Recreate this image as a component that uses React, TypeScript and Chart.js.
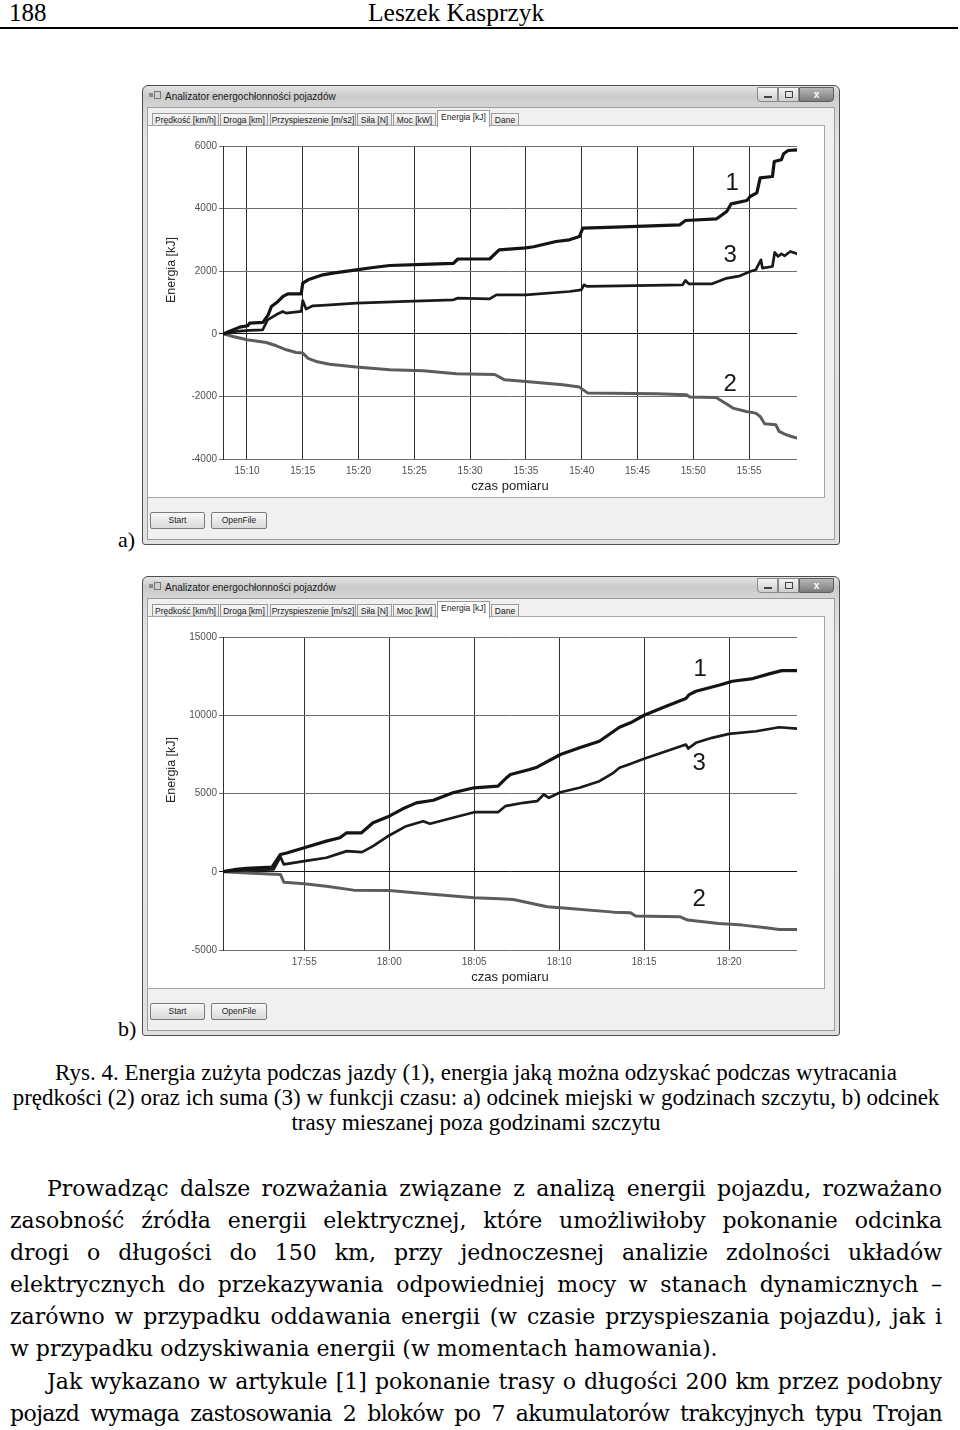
import React, { useEffect, useRef } from 'react';
import { Chart, registerables } from 'chart.js';
Chart.register(...registerables);

// ---------- chart a) : 15:07 - 15:59 (minutes after 15:00) ----------
const xTickValuesA = [10, 15, 20, 25, 30, 35, 40, 45, 50, 55];
const xTickLabelsA = ['15:10', '15:15', '15:20', '15:25', '15:30', '15:35', '15:40', '15:45', '15:50', '15:55'];
const yTickValuesA = [-4000, -2000, 0, 2000, 4000, 6000];
const yTickLabelsA = ['-4000', '-2000', '0', '2000', '4000', '6000'];

// (1) energia zużyta
const timeA1 = [7.88, 9.35, 10.06, 10.24, 11.43, 11.9, 12.19, 12.78, 13.23, 13.67, 14.86, 15.0, 15.47, 16.8, 17.7, 19.8, 21.3, 22.8, 25.8, 28.5, 28.9, 31.75, 32.6, 35.0, 35.7, 37.7, 38.9, 39.8, 40.1, 43.0, 48.8, 49.3, 52.1, 53.0, 53.4, 54.8, 55.1, 55.7, 56.0, 57.1, 57.26, 57.9, 58.1, 58.5, 59.3];
const energyA1 = [0, 213, 256, 342, 364, 607, 872, 1033, 1193, 1278, 1278, 1620, 1725, 1885, 1938, 2045, 2118, 2182, 2220, 2250, 2390, 2390, 2684, 2747, 2780, 2949, 3003, 3109, 3376, 3408, 3482, 3620, 3674, 3907, 4153, 4259, 4387, 4505, 4984, 5026, 5505, 5559, 5751, 5856, 5878];
// (2) energia odzyskiwana
const timeA2 = [7.88, 8.75, 10.0, 11.74, 12.63, 13.53, 14.4, 15.0, 15.47, 16.2, 17.4, 19.8, 22.8, 25.8, 28.76, 32.2, 33.1, 35.0, 38.3, 39.8, 40.55, 46.7, 49.4, 49.7, 52.05, 53.1, 53.55, 54.75, 55.6, 56.0, 56.4, 57.4, 57.7, 58.2, 58.8, 59.3];
const energyA2 = [0, -86, -192, -277, -383, -511, -597, -617, -783, -884, -975, -1064, -1150, -1182, -1278, -1300, -1470, -1524, -1629, -1703, -1895, -1917, -1949, -2022, -2033, -2268, -2374, -2481, -2534, -2641, -2875, -2907, -3120, -3204, -3281, -3332];
// (3) suma
const timeA3 = [7.88, 9.05, 10.24, 11.4, 11.85, 12.6, 13.2, 13.5, 14.86, 15.0, 15.3, 15.9, 17.1, 19.8, 24.3, 28.5, 28.9, 31.75, 32.35, 35.0, 38.9, 39.97, 40.2, 40.5, 49.05, 49.3, 49.6, 51.7, 52.97, 54.2, 55.1, 55.6, 56.07, 56.2, 57.1, 57.3, 57.6, 57.9, 58.2, 58.7, 59.3];
const energyA3 = [0, 75, 107, 128, 447, 607, 714, 660, 714, 1064, 788, 895, 916, 980, 1033, 1086, 1140, 1118, 1246, 1246, 1352, 1406, 1565, 1512, 1565, 1703, 1597, 1597, 1773, 1853, 1990, 2045, 2364, 2098, 2151, 2598, 2470, 2556, 2492, 2630, 2556];
const noteTextA = ['1', '3', '2'];
const noteTimeA = [53.5, 53.3, 53.3];
const noteValueA = [4810, 2490, -1610];

// ---------- chart b) : 17:50 - 18:24 (minutes after 17:00) ----------
const xTickValuesB = [55, 60, 65, 70, 75, 80];
const xTickLabelsB = ['17:55', '18:00', '18:05', '18:10', '18:15', '18:20'];
const yTickValuesB = [-5000, 0, 5000, 10000, 15000];
const yTickLabelsB = ['-5000', '0', '5000', '10000', '15000'];

const timeB1 = [50.2, 51.0, 51.6, 53.1, 53.6, 53.97, 55.0, 56.3, 57.1, 57.5, 58.37, 59.05, 60.0, 60.8, 61.6, 62.6, 63.75, 65.0, 66.4, 66.9, 67.14, 68.26, 68.7, 70.08, 71.2, 72.37, 73.55, 74.2, 75.0, 76.3, 77.46, 77.66, 78.05, 79.4, 80.2, 81.4, 82.36, 83.1, 84.0];
const energyB1 = [0, 150, 220, 300, 1105, 1200, 1533, 1955, 2170, 2490, 2490, 3130, 3550, 4020, 4400, 4570, 5045, 5364, 5470, 6000, 6213, 6530, 6680, 7490, 7918, 8340, 9234, 9514, 10000, 10575, 11066, 11322, 11533, 11916, 12171, 12343, 12644, 12854, 12854];
const timeB2 = [50.2, 52.0, 53.6, 53.8, 55.0, 56.3, 57.9, 60.0, 62.0, 65.0, 66.5, 67.3, 69.3, 70.08, 73.2, 74.2, 74.5, 77.1, 77.56, 79.4, 80.8, 82.17, 82.95, 84.0];
const energyB2 = [0, -100, -172, -664, -766, -920, -1175, -1200, -1386, -1660, -1720, -1770, -2235, -2299, -2580, -2618, -2835, -2874, -3090, -3301, -3410, -3576, -3685, -3685];
const timeB3 = [50.2, 51.6, 53.2, 53.6, 53.8, 55.0, 56.3, 57.5, 58.4, 59.05, 60.0, 61.0, 62.0, 62.4, 63.75, 65.0, 66.4, 66.83, 67.9, 68.7, 69.1, 69.4, 70.08, 71.2, 72.37, 73.2, 73.55, 74.1, 75.0, 76.3, 77.46, 77.6, 78.05, 79.0, 80.0, 81.6, 82.95, 84.0];
const energyB3 = [0, 100, 150, 958, 466, 677, 894, 1316, 1252, 1635, 2318, 2912, 3231, 3068, 3448, 3806, 3806, 4189, 4406, 4509, 4936, 4725, 5083, 5364, 5786, 6322, 6640, 6852, 7216, 7702, 8130, 7874, 8238, 8557, 8812, 8978, 9234, 9151];
const noteTextB = ['1', '3', '2'];
const noteTimeB = [78.3, 78.25, 78.25];
const noteValueB = [12920, 6920, -1760];

// ---------- texts ----------
const tabLabels = ['Prędkość [km/h]', 'Droga [km]', 'Przyspieszenie [m/s2]', 'Siła [N]', 'Moc [kW]', 'Energia [kJ]', 'Dane'];
const tabLefts = [152, 220, 270, 357, 393, 437, 491];
const tabWidths = [67, 48, 86, 35, 43, 53, 28];
const captionLines = [
  'Rys. 4. Energia zużyta podczas jazdy (1), energia jaką można odzyskać podczas wytracania',
  'prędkości (2) oraz ich suma (3) w funkcji czasu: a) odcinek miejski w godzinach szczytu, b) odcinek',
  'trasy mieszanej poza godzinami szczytu',
];
const bodyLines = [
  'Prowadząc dalsze rozważania związane z analizą energii pojazdu, rozważano',
  'zasobność źródła energii elektrycznej, które umożliwiłoby pokonanie odcinka',
  'drogi o długości do 150 km, przy jednoczesnej analizie zdolności układów',
  'elektrycznych do przekazywania odpowiedniej mocy w stanach dynamicznych –',
  'zarówno w przypadku oddawania energii (w czasie przyspieszania pojazdu), jak i',
  'w przypadku odzyskiwania energii (w momentach hamowania).',
  'Jak wykazano w artykule [1] pokonanie trasy o długości 200 km przez podobny',
  'pojazd wymaga zastosowania 2 bloków po 7 akumulatorów trakcyjnych typu Trojan',
];
const bodySpacing = [0, 0, 0, 0, 0, 0, 0, -0.6];

const SANS = '"Liberation Sans", Arial, Helvetica, sans-serif';
const SERIF = '"Liberation Serif", "Times New Roman", serif';
const BODY_SERIF = '"DejaVu Serif", "Liberation Serif", serif';

type Series = { t: number[]; v: number[]; color: string; width: number };
type Params = {
  series: Series[];
  xMin: number; xMax: number; xTicks: number[]; xLabels: string[];
  yMin: number; yMax: number; yTicks: number[]; yLabels: string[];
  notes: string[]; noteT: number[]; noteV: number[];
};

function buildConfig(p: Params): any {
  const notesPlugin = {
    id: 'curveNumbers',
    afterDatasetsDraw(chart: any) {
      const { ctx, scales } = chart;
      ctx.save();
      ctx.font = '24px ' + SANS;
      ctx.fillStyle = '#161616';
      ctx.textAlign = 'center';
      ctx.textBaseline = 'middle';
      p.notes.forEach((n, i) => {
        ctx.fillText(n, scales.x.getPixelForValue(p.noteT[i]), scales.y.getPixelForValue(p.noteV[i]));
      });
      ctx.restore();
    },
  };
  return {
    type: 'line',
    data: {
      datasets: p.series.map((s) => ({
        data: s.t.map((t, i) => ({ x: t, y: s.v[i] })),
        borderColor: s.color,
        borderWidth: s.width,
        pointRadius: 0,
        tension: 0,
        fill: false,
        borderJoinStyle: 'round',
        borderCapStyle: 'round',
      })),
    },
    options: {
      animation: false,
      responsive: false,
      devicePixelRatio: 1,
      events: [],
      layout: { padding: { top: 20, right: 26, left: 0, bottom: 0 } },
      plugins: { legend: { display: false }, tooltip: { enabled: false } },
      scales: {
        x: {
          type: 'linear',
          min: p.xMin,
          max: p.xMax,
          afterBuildTicks: (s: any) => { s.ticks = p.xTicks.map((v) => ({ value: v })); },
          afterFit: (s: any) => { s.height = 38; },
          grid: { color: '#303030', lineWidth: 1, drawTicks: false },
          border: { display: false },
          ticks: {
            autoSkip: false,
            maxRotation: 0,
            padding: 6,
            color: '#505050',
            font: { family: SANS, size: 10 },
            callback: (_v: any, i: number) => p.xLabels[i],
          },
          title: {
            display: true,
            text: 'czas pomiaru',
            color: '#1e1e1e',
            font: { family: SANS, size: 13 },
            padding: { top: 0, bottom: 3 },
          },
        },
        y: {
          type: 'linear',
          min: p.yMin,
          max: p.yMax,
          afterBuildTicks: (s: any) => { s.ticks = p.yTicks.map((v) => ({ value: v })); },
          afterFit: (s: any) => { s.width = 75; },
          grid: {
            color: (c: any) => (c.tick && c.tick.value === 0 ? '#141414' : '#6e6e6e'),
            lineWidth: 1,
            drawTicks: true,
            tickLength: 4,
          },
          border: { display: true, color: '#303030', width: 1 },
          ticks: {
            padding: 2,
            color: '#505050',
            font: { family: SANS, size: 10 },
            callback: (_v: any, i: number) => p.yLabels[i],
          },
        },
      },
    },
    plugins: [notesPlugin],
  };
}

function EnergyChart({ left, top, params }: { left: number; top: number; params: Params }) {
  const ref = useRef<HTMLCanvasElement>(null);
  useEffect(() => {
    const chart = new Chart(ref.current as HTMLCanvasElement, buildConfig(params));
    return () => chart.destroy();
  }, []);
  return (
    <canvas
      ref={ref}
      width={675}
      height={371}
      style={{ position: 'absolute', left, top, width: 675, height: 371, display: 'block' }}
    />
  );
}

const abs = (s: React.CSSProperties): React.CSSProperties => ({ position: 'absolute', ...s });

function AppWindow({ top, params }: { top: number; params: Params }) {
  return (
    <>
      {/* frame */}
      <div style={abs({ left: 142, top, width: 698, height: 460, boxSizing: 'border-box', border: '1px solid #4e4e4e', borderRadius: '6px 6px 3px 3px', background: 'linear-gradient(180deg, #e4e4e4 0px, #cacaca 10px, #d6d6d6 22px, #e4e4e4 60px, #e0e0e0 100%)' })} />
      {/* icon */}
      <div style={abs({ left: 149, top: top + 8, width: 4, height: 4, background: '#8a8a8a' })} />
      <div style={abs({ left: 154, top: top + 6, width: 7, height: 8, border: '1px solid #777', background: '#cfcfcf', boxSizing: 'border-box' })} />
      {/* title */}
      <div style={abs({ left: 165, top: top + 6, font: '10px ' + SANS, color: '#1c1c1c', whiteSpace: 'nowrap', lineHeight: '12px' })}>Analizator energochłonności pojazdów</div>
      {/* caption buttons */}
      <div style={abs({ left: 757, top: top + 2, width: 21, height: 15, boxSizing: 'border-box', border: '1px solid #8a8a8a', borderRadius: '0 0 0 4px', background: 'linear-gradient(#f4f4f4, #cfcfcf)' })}>
        <div style={abs({ left: 6, top: 8, width: 8, height: 2, background: '#444' })} />
      </div>
      <div style={abs({ left: 778, top: top + 2, width: 21, height: 15, boxSizing: 'border-box', border: '1px solid #8a8a8a', background: 'linear-gradient(#f4f4f4, #cfcfcf)' })}>
        <div style={abs({ left: 6, top: 3, width: 8, height: 7, border: '1px solid #444', boxSizing: 'border-box' })} />
      </div>
      <div style={abs({ left: 799, top: top + 2, width: 35, height: 15, boxSizing: 'border-box', border: '1px solid #5e5e5e', borderRadius: '0 0 4px 0', background: 'linear-gradient(#b8b8b8, #7c7c7c)', color: '#fff', font: 'bold 10px ' + SANS, textAlign: 'center', lineHeight: '13px' })}>x</div>
      {/* client area */}
      <div style={abs({ left: 147, top: top + 22, width: 688, height: 433, boxSizing: 'border-box', border: '1px solid #9c9c9c', background: '#f0f0f0' })} />
      {/* tabs */}
      {tabLabels.map((t, i) => {
        const sel = i === 5;
        return (
          <div key={t} style={abs({ left: tabLefts[i], top: top + (sel ? 25 : 28), width: tabWidths[i], height: sel ? 17 : 14, boxSizing: 'border-box', border: '1px solid #9a9a9a', borderBottom: sel ? 'none' : '1px solid #9a9a9a', background: sel ? '#ffffff' : 'linear-gradient(#f6f6f6, #e2e2e2)', font: '8.5px ' + SANS, color: '#222', textAlign: 'center', lineHeight: sel ? '13px' : '12px', whiteSpace: 'nowrap', overflow: 'hidden', zIndex: sel ? 2 : 1 })}>{t}</div>
        );
      })}
      {/* tab page */}
      <div style={abs({ left: 147, top: top + 40, width: 678, height: 373, boxSizing: 'border-box', border: '1px solid #a4a4a4', background: '#ffffff', zIndex: 1 })} />
      <div style={abs({ left: 0, top: 0, zIndex: 3 })}>
        <EnergyChart left={148} top={top + 41} params={params} />
        <div style={abs({ left: 171, top: top + 185 - (top === 85 ? 0 : -9), transform: 'translate(-50%, -50%) rotate(-90deg)', font: '12.5px ' + SANS, color: '#262626', whiteSpace: 'nowrap' })}>Energia [kJ]</div>
      </div>
      {/* bottom buttons */}
      <div style={abs({ left: 150, top: top + 427, width: 55, height: 17, boxSizing: 'border-box', border: '1px solid #7a7a7a', borderRadius: 2, background: 'linear-gradient(#f8f8f8, #dadada)', font: '8.5px ' + SANS, color: '#222', textAlign: 'center', lineHeight: '15px' })}>Start</div>
      <div style={abs({ left: 211, top: top + 427, width: 56, height: 17, boxSizing: 'border-box', border: '1px solid #7a7a7a', borderRadius: 2, background: 'linear-gradient(#f8f8f8, #dadada)', font: '8.5px ' + SANS, color: '#222', textAlign: 'center', lineHeight: '15px' })}>OpenFile</div>
    </>
  );
}

const paramsA: Params = {
  series: [
    { t: timeA1, v: energyA1, color: '#141414', width: 3.2 },
    { t: timeA3, v: energyA3, color: '#1a1a1a', width: 2.7 },
    { t: timeA2, v: energyA2, color: '#5c5c5c', width: 3 },
  ],
  xMin: 7.85, xMax: 59.3, xTicks: xTickValuesA, xLabels: xTickLabelsA,
  yMin: -4000, yMax: 6000, yTicks: yTickValuesA, yLabels: yTickLabelsA,
  notes: noteTextA, noteT: noteTimeA, noteV: noteValueA,
};

const paramsB: Params = {
  series: [
    { t: timeB1, v: energyB1, color: '#141414', width: 3.2 },
    { t: timeB3, v: energyB3, color: '#1a1a1a', width: 2.7 },
    { t: timeB2, v: energyB2, color: '#5c5c5c', width: 3 },
  ],
  xMin: 50.22, xMax: 84.0, xTicks: xTickValuesB, xLabels: xTickLabelsB,
  yMin: -5000, yMax: 15000, yTicks: yTickValuesB, yLabels: yTickLabelsB,
  notes: noteTextB, noteT: noteTimeB, noteV: noteValueB,
};

export default function App() {
  const bodyTops = [1175, 1207, 1239, 1271, 1303, 1335, 1368, 1400];
  return (
    <div style={abs({ left: 0, top: 0, width: 960, height: 1430, background: '#ffffff', overflow: 'hidden' })}>
      {/* running header */}
      <div style={abs({ left: 9, top: 0, font: '25px ' + SERIF, lineHeight: '25px', color: '#000' })}>188</div>
      <div style={abs({ left: 368, top: 0, font: '25.5px ' + SERIF, lineHeight: '25px', color: '#000', whiteSpace: 'nowrap' })}>Leszek Kasprzyk</div>
      <div style={abs({ left: 0, top: 27, width: 958, height: 2, background: '#000' })} />

      <AppWindow top={85} params={paramsA} />
      <div style={abs({ left: 118, top: 527, font: '22px ' + SERIF, lineHeight: '25px' })}>a)</div>
      <AppWindow top={576} params={paramsB} />
      <div style={abs({ left: 118, top: 1016, font: '22px ' + SERIF, lineHeight: '25px' })}>b)</div>

      {/* caption */}
      {captionLines.map((l, i) => (
        <div key={i} style={abs({ left: 10, top: 1060 + i * 25, width: 932, textAlign: 'center', font: '23px ' + SERIF, lineHeight: '25px', whiteSpace: 'nowrap', color: '#000' })}>{l}</div>
      ))}

      {/* body text */}
      {bodyLines.map((l, i) => {
        const indent = i === 0 || i === 6;
        const last = i === 5;
        return (
          <div key={i} style={abs({ left: indent ? 47 : 10, top: bodyTops[i], width: indent ? 895 : 932, font: '22px ' + BODY_SERIF, lineHeight: '28px', letterSpacing: bodySpacing[i] + 'px', color: '#000', textAlign: last ? 'left' : 'justify', textAlignLast: last ? 'left' : 'justify' } as any)}>{l}</div>
        );
      })}
    </div>
  );
}
